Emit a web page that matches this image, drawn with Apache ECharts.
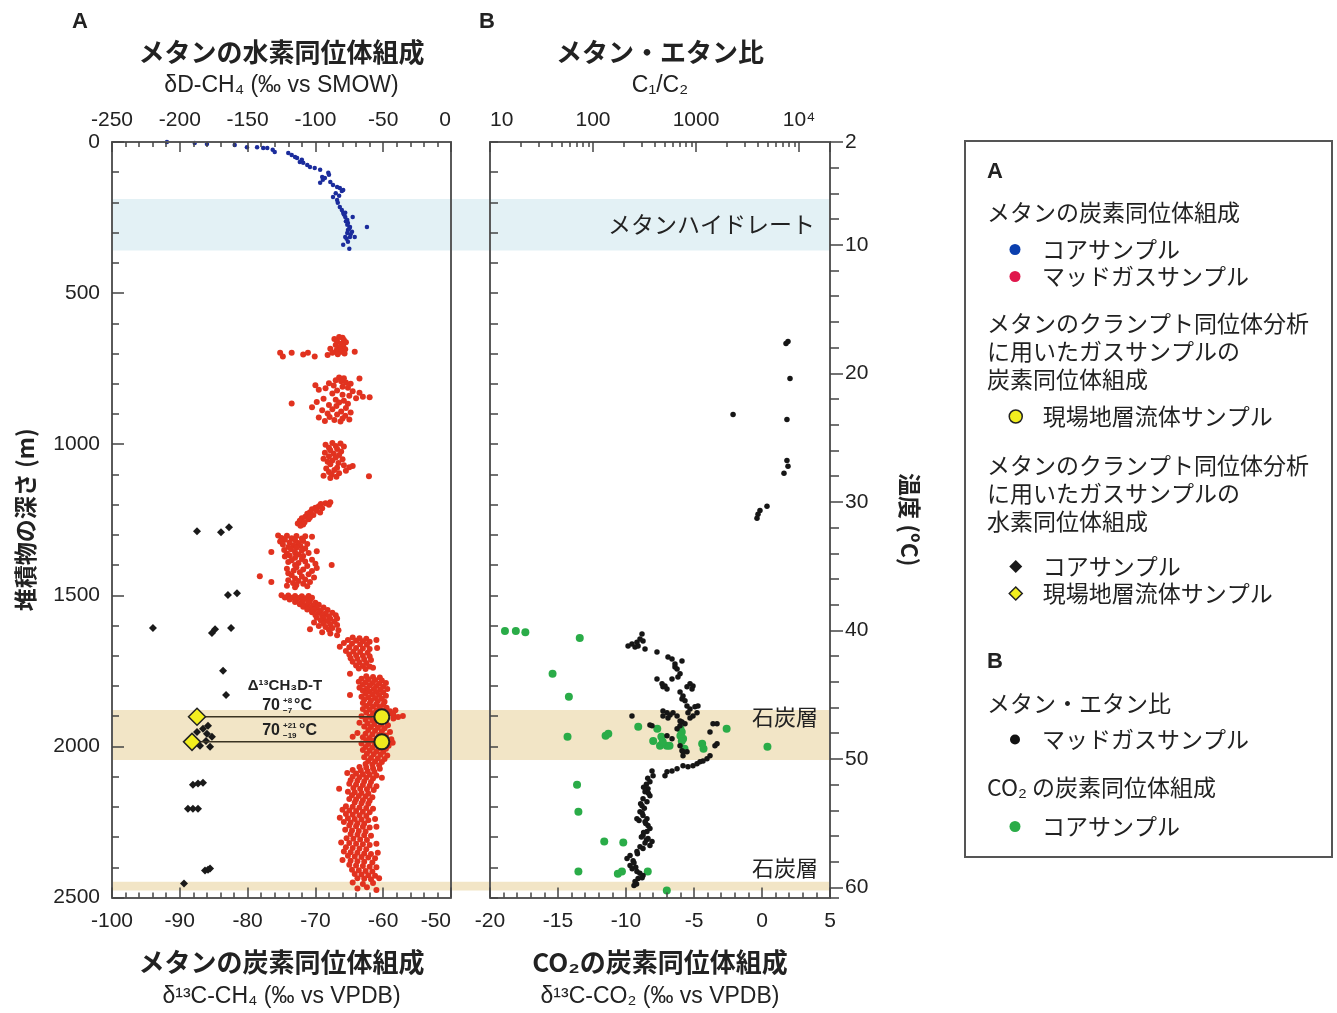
<!DOCTYPE html>
<html><head><meta charset="utf-8">
<script src="https://cdn.jsdelivr.net/npm/echarts@6/dist/echarts.min.js"></script>
<style>html,body{margin:0;padding:0;background:#fff}#c{width:1337px;height:1013px}</style>
</head><body><div id="c"></div>
<script>
// ---------- data ----------
const hydrateBand = [188, 358];
const coalBands = [[1876, 2041], [2443, 2472]];
const tempLabels = [2, 10, 20, 30, 40, 50, 60];
const c1c2Labels = [10, 100, 1000, 10000];
const c1c2MinorTicks = [20,30,40,50,60,70,80,90,200,300,400,500,600,700,800,900,2000,3000,4000,5000,6000,7000,8000,9000];

// A: carbon isotope of methane, core samples [d13C, depth]
const coreC = [[-91.9,0],[-87.8,3],[-86.0,7],[-81.9,10],[-80.1,17],[-78.6,17],[-77.7,20],[-77.1,20],[-76.3,26],[-76.0,33],
[-74.0,36],[-73.5,43],[-72.7,53],[-72.3,66],[-71.8,69],[-71.2,76],[-73.0,50],[-72.0,59],
[-70.8,83],[-70.1,86],[-69.3,92],[-68.1,102],[-68.0,108],[-69.0,116],[-68.9,125],[-69.3,135],[-68.6,119],[-67.8,132],[-67.4,142],[-66.8,149],[-66.4,152],[-66.1,162],[-65.9,159],[-67.0,170],[-66.5,178],
[-67.4,182],[-66.8,192],[-66.7,201],[-66.4,215],[-66.1,225],[-65.9,234],[-65.8,240],[-65.6,248],[-65.3,258],[-65.5,262],[-65.2,268],[-64.9,281],[-65.0,285],[-65.2,291],[-65.3,301],[-64.8,305],[-64.9,314],[-65.4,320],
[-64.5,248],[-62.4,281],[-64.2,314],[-65.6,314],[-65.2,330],[-65.9,340],[-65.0,353],[-65.3,274],[-65.6,234],[-64.6,297]];

// A: carbon isotope of methane, mud gas samples [d13C, depth]
const mudC = [
[-66.5,645],[-66.0,648],[-67.2,652],[-65.8,655],[-66.8,660],[-65.5,663],[-66.2,668],[-67.0,672],[-65.9,676],[-66.5,680],[-67.8,684],[-65.6,686],[-66.9,690],[-66.2,694],[-67.5,697],[-65.7,700],[-68.2,705],[-66.7,702],[-64.2,694],
[-75.2,697],[-74.8,710],[-73.5,697],[-71.8,703],[-71.1,697],[-70.1,710],
[-66.5,779],[-65.8,782],[-63.5,783],[-67.0,788],[-66.2,792],[-65.5,796],[-68.0,798],[-64.8,800],[-70.0,805],[-67.3,806],[-66.0,810],[-65.2,813],[-68.5,815],[-69.5,820],[-66.8,822],[-64.5,825],[-63.5,830],[-67.5,832],[-66.0,836],[-65.0,840],[-63.0,843],[-62.0,845],[-64.0,848],[-68.8,850],[-67.0,853],[-65.8,856],[-69.8,860],[-66.5,862],[-65.2,866],[-73.5,865],[-68.0,870],[-66.9,874],[-70.5,878],[-65.5,880],[-67.5,884],[-69.0,888],[-66.2,892],[-64.8,895],[-68.2,898],[-66.8,902],[-65.6,906],[-67.9,910],[-69.5,912],[-66.0,915],[-67.2,920],[-68.6,923],[-66.3,925],[-65.0,918],
[-67.5,996],[-66.3,998],[-68.5,1002],[-67.0,1006],[-65.8,1008],[-68.0,1012],[-66.8,1016],[-67.8,1020],[-66.2,1024],[-68.6,1028],[-67.3,1032],[-66.5,1036],[-68.0,1040],[-67.0,1044],[-68.8,1048],[-66.0,1050],[-67.5,1054],[-68.2,1058],[-66.6,1062],[-67.8,1066],[-65.8,1070],[-64.5,1072],[-65.0,1076],[-66.8,1078],[-68.4,1080],[-67.2,1085],[-65.5,1088],[-68.0,1092],[-66.5,1096],[-67.6,1100],[-68.8,1104],[-66.9,1108],[-67.8,1112],[-62.1,1106],
[-67.8,1192],[-68.5,1195],[-69.2,1198],[-68.0,1200],[-69.5,1205],[-70.0,1210],[-69.0,1212],[-70.5,1215],[-69.8,1220],[-70.8,1225],[-71.2,1230],[-70.3,1234],[-71.5,1240],[-72.0,1245],[-71.0,1248],[-72.3,1253],[-71.6,1258],[-72.6,1262],[-71.8,1266],[-72.2,1270],[-70.8,1242],[-69.3,1226],
[-75.5,1302],[-74.2,1303],[-72.8,1304],[-71.5,1305],[-70.5,1306],[-75.0,1310],[-73.5,1311],[-72.0,1312],[-74.5,1316],[-73.0,1318],[-71.8,1320],[-75.2,1322],[-73.8,1325],[-72.5,1327],[-71.2,1330],[-74.8,1332],[-73.2,1335],[-72.2,1337],[-74.0,1340],[-72.8,1343],[-71.5,1345],[-73.6,1348],[-74.6,1350],[-72.0,1352],[-69.8,1354],[-76.5,1357],[-73.0,1358],[-71.0,1360],[-74.2,1362],[-72.5,1365],[-73.8,1368],[-71.8,1370],[-74.5,1372],[-73.0,1376],[-72.0,1380],[-70.5,1382],[-73.5,1384],[-71.5,1388],[-74.0,1390],[-72.5,1393],[-70.0,1396],[-67.6,1400],[-73.0,1400],[-71.2,1403],[-72.8,1407],[-69.8,1410],[-74.2,1412],[-71.8,1415],[-73.2,1418],[-70.5,1420],[-72.3,1424],[-74.0,1427],[-71.0,1430],[-78.2,1437],[-73.5,1434],[-72.0,1438],[-70.2,1441],[-73.0,1444],[-71.5,1448],[-74.0,1450],[-72.5,1453],[-76.5,1456],[-70.8,1456],[-73.3,1459],[-71.8,1462],[-72.8,1466],[-74.2,1468],[-71.2,1470],[-73.0,1473],
[-75.0,1500],[-74.0,1501],[-73.0,1502],[-72.0,1503],[-71.0,1502],[-74.5,1507],[-73.5,1508],[-72.5,1509],[-71.5,1510],[-70.5,1508],[-73.8,1514],[-72.8,1515],[-71.8,1516],[-70.8,1517],[-73.0,1522],[-72.0,1523],[-71.0,1524],[-70.0,1525],[-72.3,1530],[-71.3,1532],[-70.3,1533],[-69.5,1531],[-71.8,1538],[-70.8,1540],[-69.8,1541],[-68.8,1540],[-71.2,1547],[-70.2,1548],[-69.2,1550],[-68.2,1549],[-70.5,1556],[-69.5,1558],[-68.5,1560],[-67.5,1558],[-70.0,1565],[-69.0,1567],[-68.0,1569],[-67.0,1566],[-69.8,1574],[-68.8,1576],[-67.8,1578],[-66.8,1577],[-69.2,1583],[-68.2,1585],[-67.2,1587],[-70.2,1590],[-68.8,1594],[-67.8,1596],[-66.8,1598],[-69.5,1602],[-68.5,1605],[-67.5,1608],[-70.8,1612],[-68.0,1614],[-66.6,1616],[-69.0,1622],[-67.8,1626],[-66.8,1632],
[-64.5,1640],[-63.5,1642],[-62.5,1644],[-65.2,1648],[-64.0,1650],[-63.0,1652],[-62.0,1654],[-61.0,1648],[-65.8,1658],[-64.6,1660],[-63.4,1662],[-62.4,1664],[-66.4,1670],[-65.0,1672],[-64.0,1674],[-63.0,1676],[-62.0,1678],[-60.9,1674],[-65.5,1684],[-64.4,1686],[-63.4,1688],[-62.3,1690],[-65.0,1696],[-64.0,1698],[-63.0,1700],[-62.0,1702],[-64.8,1708],[-63.8,1710],[-62.8,1712],[-61.8,1714],[-64.5,1720],[-63.5,1722],[-62.5,1724],[-64.0,1732],[-63.0,1734],[-62.0,1736],[-63.6,1742],[-62.6,1744],[-61.5,1740],[-64.9,1760],
[-62.5,1768],[-61.5,1770],[-60.5,1772],[-63.2,1776],[-62.2,1778],[-61.2,1780],[-60.2,1782],[-63.6,1786],[-62.6,1788],[-61.6,1790],[-60.6,1792],[-59.6,1790],[-63.0,1796],[-62.0,1798],[-61.0,1800],[-60.0,1802],[-63.5,1806],[-62.4,1808],[-61.4,1810],[-60.4,1812],[-59.4,1810],[-63.0,1816],[-62.0,1818],[-61.0,1820],[-60.0,1822],[-64.9,1830],[-62.6,1826],[-61.6,1828],[-60.6,1830],[-59.6,1832],[-63.2,1836],[-62.2,1838],[-61.2,1840],[-60.2,1842],[-62.8,1846],[-61.8,1848],[-60.8,1850],[-59.8,1852],[-63.0,1856],[-62.0,1858],[-61.0,1860],[-60.0,1862],[-62.5,1866],[-61.5,1868],[-60.5,1870],[-59.5,1872],
[-63.0,1876],[-62.0,1878],[-61.0,1880],[-60.0,1882],[-59.0,1884],[-58.2,1880],[-62.5,1888],[-61.5,1890],[-60.5,1892],[-59.2,1892],[-58.5,1895],[-57.1,1899],[-57.8,1903],[-63.2,1900],[-62.0,1902],[-61.0,1904],[-59.5,1906],[-58.5,1908],[-62.6,1912],[-61.6,1914],[-60.6,1916],[-59.6,1918],[-63.5,1922],[-62.3,1924],[-61.3,1926],[-60.3,1928],[-59.3,1930],[-62.8,1934],[-61.8,1936],[-60.8,1938],[-59.8,1940],[-62.2,1946],[-61.2,1948],[-60.2,1950],[-59.0,1952],[-63.8,1956],[-62.6,1958],[-61.6,1960],[-60.6,1962],[-59.6,1964],[-64.5,1968],[-63.0,1970],[-62.0,1972],[-61.0,1974],[-58.8,1976],[-62.5,1980],[-61.5,1982],[-59.8,1984],[-58.6,1988],[-63.2,1990],[-62.2,1992],[-61.2,1994],[-60.2,1996],[-59.2,1998],[-62.6,2002],[-61.6,2004],[-60.6,2006],[-59.6,2008],[-63.0,2012],[-62.0,2014],[-61.0,2016],[-60.0,2018],[-62.4,2024],[-61.4,2026],[-60.4,2028],[-59.4,2030],[-62.8,2036],[-61.8,2038],[-60.8,2040],[-59.8,2042],[-62.2,2048],[-61.2,2050],[-60.2,2052],[-62.6,2058],[-61.6,2060],[-60.6,2062],
[-63.5,2068],[-62.5,2070],[-61.5,2072],[-60.5,2074],[-64.5,2078],[-63.3,2080],[-62.3,2082],[-61.3,2084],[-65.3,2088],[-64.0,2090],[-63.0,2092],[-62.0,2094],[-61.0,2096],[-64.5,2100],[-63.5,2102],[-62.5,2104],[-61.5,2106],[-60.2,2104],[-64.8,2112],[-63.8,2114],[-62.8,2116],[-61.8,2118],[-65.0,2124],[-64.0,2126],[-63.0,2128],[-62.0,2130],[-61.0,2132],[-64.4,2138],[-63.4,2140],[-62.4,2142],[-61.4,2144],[-65.2,2150],[-64.2,2152],[-63.2,2154],[-62.2,2156],[-64.6,2162],[-63.6,2164],[-62.6,2166],[-61.6,2168],[-65.0,2174],[-64.0,2176],[-63.0,2178],[-62.0,2180],[-64.2,2186],[-63.2,2188],[-62.2,2190],[-66.5,2140],
[-65.5,2198],[-64.5,2200],[-63.5,2202],[-62.5,2204],[-61.5,2206],[-66.0,2210],[-65.0,2212],[-64.0,2214],[-63.0,2216],[-62.0,2218],[-65.5,2224],[-64.5,2226],[-63.5,2228],[-62.5,2230],[-66.4,2236],[-65.2,2238],[-64.2,2240],[-63.2,2242],[-62.2,2244],[-61.2,2240],[-65.8,2250],[-64.8,2252],[-63.8,2254],[-62.8,2256],[-65.0,2262],[-64.0,2264],[-63.0,2266],[-62.0,2268],[-61.0,2266],[-65.6,2276],[-64.6,2278],[-63.6,2280],[-62.6,2282],[-64.8,2290],[-63.8,2292],[-62.8,2294],[-61.8,2296],[-65.4,2304],[-64.4,2306],[-63.4,2308],[-62.4,2310],[-66.2,2318],[-65.0,2320],[-64.0,2322],[-63.0,2324],[-62.0,2326],[-61.0,2322],[-65.5,2334],[-64.5,2336],[-63.5,2338],[-62.5,2340],
[-65.8,2348],[-64.8,2350],[-63.8,2352],[-62.8,2354],[-61.8,2356],[-60.8,2352],[-65.2,2362],[-64.2,2364],[-63.2,2366],[-62.2,2368],[-61.2,2370],[-66.0,2376],[-64.8,2378],[-63.8,2380],[-62.8,2382],[-61.6,2384],[-65.0,2392],[-64.0,2394],[-63.0,2396],[-62.0,2398],[-61.0,2400],[-64.6,2408],[-63.6,2410],[-62.6,2412],[-61.6,2414],[-64.2,2422],[-63.2,2424],[-62.2,2426],[-61.2,2428],[-63.8,2436],[-62.8,2438],[-61.8,2440],[-60.6,2436],
[-64.5,2450],[-63.0,2455],[-61.5,2452],[-62.4,2466],[-63.8,2470],[-61.0,2475]];

// A: clumped-isotope gas samples, carbon isotope, in-situ formation fluid [d13C, depth]
const fluidC = [[-60.2,1902],[-60.2,1985]];
// A: clumped-isotope gas samples, hydrogen isotope [dD, depth]
const coreD = [[-187.3,1288],[-169.6,1291],[-163.7,1275],[-164.5,1499],[-157.8,1493],[-219.8,1608],[-176.3,1625],[-174.0,1612],[-162.2,1608],[-168.1,1750],[-165.9,1830],
[-187.3,1952],[-180.0,1958],[-179.2,1932],[-176.3,1968],[-177.7,2001],[-190.3,1991],[-185.1,1998],[-180.7,1982],[-182.9,1942],
[-190.3,2127],[-186.6,2123],[-182.9,2120],[-194.0,2206],[-190.3,2206],[-186.6,2206],[-181.4,2411],[-179.2,2408],[-177.7,2404],[-196.9,2454]];
const fluidD = [[-187.3,1902],[-191.0,1985]];
// tie lines between paired fluid samples (bottom-axis units)
const tieLine1 = [[-87.5,1902],[-60.2,1902]];
const tieLine2 = [[-88.2,1985],[-60.2,1985]];

// B: methane/ethane ratio, mud gas [C1/C2, depth]
const mudRatio = [[7820,660],[7480,667],[8180,783],[2290,902],[7640,918],[7640,1054],[7820,1073],[7150,1096],[4890,1205],[4180,1219],[4000,1232],[3910,1245],
[219,1668],[239,1661],[256,1671],[274,1668],[299,1628],[306,1651],[320,1678],[267,1655],[286,1645],
[418,1688],[535,1704],[585,1711],[625,1727],[731,1717],
[418,1777],[478,1803],[585,1777],[668,1770],[625,1737],[655,1744],[700,1760],
[468,1793],[523,1810],[500,1800],
[875,1793],[935,1800],[818,1803],[915,1810],
[700,1820],[731,1843],[782,1849],[748,1833],[818,1866],[875,1876],[977,1869],[1045,1866],[836,1889],
[478,1883],[523,1889],[560,1896],[598,1889],[478,1899],[535,1906],
[239,1899],[374,1932],[357,1929],
[655,1899],[700,1916],[731,1919],[782,1925],[875,1906],[935,1899],[1023,1889],
[1463,1925],[1600,1925],[1368,1952],[1528,1998],[1600,1991],
[700,1998],[731,2014],[748,2018],[818,2018],[748,2031],
[523,1965],[585,1975],[655,1942],[700,1932],
[1279,2041],[1368,2031],[1170,2048],[1094,2051],[1023,2057],[935,2064],[836,2067],[748,2064],[655,2074],[585,2081],[523,2084],[500,2097],
[374,2081],[383,2097],[357,2117],[342,2140],[320,2150],[357,2163],[306,2173],[334,2183],[299,2196],[286,2216],[306,2229],[267,2239],[334,2239],[320,2249],[342,2262],[357,2272],[334,2282],[306,2295],[342,2305],[374,2315],[357,2328],[286,2332],[306,2338],[267,2348],[229,2361],[214,2371],[245,2378],[229,2394],[267,2414],[306,2427],[274,2437],[256,2447],
[340,2105],[330,2125],[310,2135],[345,2155],[290,2190],[315,2205],[300,2220],[280,2245],[325,2255],[310,2285],[295,2300],[330,2310],[320,2320],[270,2355],[250,2385],[260,2400],[240,2405],[285,2420],[300,2435],[265,2455],[250,2460]];

// B: carbon isotope of CO2, core samples [d13C, depth]
const co2C = [[-18.9,1618],[-18.1,1618],[-17.4,1622],[-13.4,1641],[-15.4,1760],[-14.2,1836],[-14.3,1968],[-11.5,1965],[-11.3,1958],[-9.1,1935],[-7.7,1942],[-8.0,1982],
[-7.4,1968],[-7.5,1998],[-7.0,1998],[-6.8,1998],[-7.3,1985],[-6.0,1942],[-5.9,1952],[-6.0,1965],[-5.8,1975],[-5.9,1982],[-5.7,2008],[-4.4,1991],[-4.3,2008],[-2.6,1942],[0.4,2001],
[-13.6,2127],[-13.5,2216],[-11.6,2315],[-10.2,2318],[-13.5,2414],[-10.6,2421],[-10.3,2414],[-8.4,2414],[-7.0,2477]];

// ---------- chart ----------
const CJK = '"Noto Sans CJK JP", sans-serif';
const LAT = '"Liberation Sans", "DejaVu Sans", sans-serif';
const INK = '#222';
const AXC = '#5a5a5a';
const axisLine = {show: true, onZero: false, lineStyle: {color: AXC, width: 2}};
const noLine = {show: false, onZero: false};
const tickStyle = {color: '#444', width: 1.5};
const labelStyle = {fontSize: 21, fontFamily: LAT, color: INK};
const nameRich = {
  t: {fontSize: 26, fontWeight: 'bold', fontFamily: CJK, color: INK, lineHeight: 38},
  f: {fontSize: 23, fontFamily: LAT, color: INK, lineHeight: 30}
};
const legendText = {'A-core-C':'コアサンプル','A-mud-C':'マッドガスサンプル','A-fluid-C':'現場地層流体サンプル',
  'A-core-D':'コアサンプル','A-fluid-D':'現場地層流体サンプル','B-mud':'マッドガスサンプル','B-core':'コアサンプル'};
const legendBase = (top, data, w, h) => ({
  left: 1015 - w / 2, top: top, padding: 0, orient: 'vertical', itemWidth: w, itemHeight: h, itemGap: 0,
  selectedMode: false, data: data, formatter: n => legendText[n],
  textStyle: {fontSize: 23, fontFamily: CJK, color: INK, lineHeight: 27, padding: [0,0,0, 1042 - (1015 + w / 2) - 5]}
});
const txt = (x, y, s, o) => ({type: 'text', x: x, y: y, z: 100, silent: true,
  style: Object.assign({text: s, fontSize: 23, fontFamily: CJK, fill: INK, align: 'left', verticalAlign: 'middle'}, o || {})});

const chart = echarts.init(document.getElementById('c'));
chart.setOption({
  animation: false,
  backgroundColor: '#fff',
  grid: [
    {left: 112, top: 142, width: 718, height: 757},
    {left: 112, top: 142, width: 339, height: 757},
    {left: 490, top: 142, width: 340, height: 757}
  ],
  xAxis: [
    {gridIndex: 0, type: 'value', min: 0, max: 1, show: false},
    {gridIndex: 1, type: 'value', position: 'bottom', min: -100, max: -50, interval: 10, z: 5,
     axisLine: axisLine, axisTick: {inside: true, length: 10, lineStyle: tickStyle},
     minorTick: {show: true, splitNumber: 5, length: 5, lineStyle: tickStyle},
     axisLabel: Object.assign({margin: 13, alignMaxLabel: 'right'}, labelStyle),
     splitLine: {show: false},
     name: '{t|メタンの炭素同位体組成}\n{f|δ¹³C-CH₄ (‰ vs VPDB)}', nameLocation: 'middle', nameGap: 46,
     nameTextStyle: {rich: nameRich}},
    {gridIndex: 1, type: 'value', position: 'top', min: -250, max: 0, interval: 50, z: 5,
     axisLine: axisLine, axisTick: {inside: true, length: 10, lineStyle: tickStyle},
     minorTick: {show: true, splitNumber: 5, length: 5, lineStyle: tickStyle},
     axisLabel: Object.assign({margin: 11, alignMaxLabel: 'right'}, labelStyle),
     splitLine: {show: false},
     name: '{t|メタンの水素同位体組成}\n{f|δD-CH₄ (‰ vs SMOW)}', nameLocation: 'middle', nameGap: 41,
     nameTextStyle: {rich: nameRich}},
    {gridIndex: 2, type: 'value', position: 'bottom', min: -20, max: 5, interval: 5, z: 5,
     axisLine: axisLine, axisTick: {inside: true, length: 10, lineStyle: tickStyle},
     minorTick: {show: true, splitNumber: 5, length: 5, lineStyle: tickStyle},
     axisLabel: Object.assign({margin: 13}, labelStyle),
     splitLine: {show: false},
     name: '{t|CO₂の炭素同位体組成}\n{f|δ¹³C-CO₂ (‰ vs VPDB)}', nameLocation: 'middle', nameGap: 46,
     nameTextStyle: {rich: nameRich}},
    {gridIndex: 2, type: 'log', logBase: 10, position: 'top', min: 10, max: 20000, z: 5,
     axisLine: axisLine, axisTick: {inside: true, length: 10, lineStyle: tickStyle},
     axisLabel: Object.assign({margin: 11, alignMinLabel: 'left',
       formatter: v => { const r = Math.round(v); return r === 10000 ? '10⁴' : (c1c2Labels.indexOf(r) >= 0 ? String(r) : ''); }}, labelStyle),
     splitLine: {show: false},
     name: '{t|メタン・エタン比}\n{f|C₁/C₂}', nameLocation: 'middle', nameGap: 41,
     nameTextStyle: {rich: nameRich}},
    {gridIndex: 2, type: 'value', position: 'top', min: 1, max: Math.log10(20000), z: 5,
     axisLine: noLine,
     axisTick: {show: true, inside: true, length: 5, lineStyle: tickStyle, customValues: c1c2MinorTicks.map(v => Math.log10(v))},
     axisLabel: {show: false}, splitLine: {show: false}}
  ],
  yAxis: [
    {gridIndex: 0, type: 'value', min: 0, max: 2500, inverse: true, show: false},
    {gridIndex: 1, type: 'value', position: 'left', min: 0, max: 2500, interval: 500, inverse: true, z: 5,
     axisLine: axisLine, axisTick: {inside: true, length: 12, lineStyle: tickStyle},
     minorTick: {show: true, splitNumber: 5, length: 7, lineStyle: tickStyle},
     axisLabel: Object.assign({margin: 12, formatter: v => String(v)}, labelStyle),
     splitLine: {show: false},
     name: '堆積物の深さ (m)', nameLocation: 'middle', nameGap: 75,
     nameTextStyle: {fontSize: 23, fontWeight: 'bold', fontFamily: CJK, color: INK}},
    {gridIndex: 1, type: 'value', position: 'right', min: 0, max: 2500, inverse: true, z: 5,
     axisLine: axisLine, axisTick: {show: false}, axisLabel: {show: false}, splitLine: {show: false}},
    {gridIndex: 2, type: 'value', position: 'left', min: 0, max: 2500, interval: 100, inverse: true, z: 5,
     axisLine: axisLine, axisTick: {inside: true, length: 8, lineStyle: tickStyle},
     axisLabel: {show: false}, splitLine: {show: false}},
    {gridIndex: 2, type: 'value', position: 'right', min: 2, max: 60.78, interval: 2, inverse: true, z: 5,
     axisLine: axisLine, axisTick: {length: 9, lineStyle: tickStyle},
     axisLabel: Object.assign({margin: 15, customValues: tempLabels}, labelStyle),
     splitLine: {show: false},
     name: '温度 (ºC)', nameLocation: 'middle', nameGap: 68, nameRotate: -90,
     nameTextStyle: {fontSize: 23, fontWeight: 'bold', fontFamily: CJK, color: INK}},
    {gridIndex: 2, type: 'value', position: 'right', min: 2, max: 60.78, inverse: true, z: 5,
     axisLine: noLine, axisTick: {show: true, length: 13, lineStyle: tickStyle, customValues: tempLabels},
     axisLabel: {show: false}, splitLine: {show: false}}
  ],
  legend: [
    legendBase(236, [{name: 'A-core-C', itemStyle: {color: '#0b3fae'}}, {name: 'A-mud-C', itemStyle: {color: '#e0174c'}}], 11, 11),
    legendBase(403, [{name: 'A-fluid-C', itemStyle: {color: '#f2ee1e', borderColor: '#222', borderWidth: 1.5}}], 13, 13),
    legendBase(553, [{name: 'A-core-D', itemStyle: {color: '#1a1a1a'}}, {name: 'A-fluid-D', itemStyle: {color: '#f2ee1e', borderColor: '#222', borderWidth: 1.5}}], 13, 13),
    legendBase(726, [{name: 'B-mud', itemStyle: {color: '#111'}}], 10, 10),
    legendBase(813, [{name: 'B-core', itemStyle: {color: '#2aac48'}}], 11, 11)
  ],
  series: [
    {type: 'scatter', name: 'bands', xAxisIndex: 0, yAxisIndex: 0, data: [], z: 1, silent: true,
     markArea: {silent: true, label: {show: false}, data: [
       [{yAxis: hydrateBand[0], itemStyle: {color: '#e3f1f5'}}, {yAxis: hydrateBand[1]}],
       [{yAxis: coalBands[0][0], itemStyle: {color: '#f2e5c6'}}, {yAxis: coalBands[0][1]}],
       [{yAxis: coalBands[1][0], itemStyle: {color: '#f2e5c6'}}, {yAxis: coalBands[1][1]}]
     ]}},
    {type: 'scatter', name: 'A-mud-C', xAxisIndex: 1, yAxisIndex: 1, data: mudC, symbolSize: 6, z: 2,
     itemStyle: {color: '#e1321f', opacity: 1}},
    {type: 'scatter', name: 'A-core-C', xAxisIndex: 1, yAxisIndex: 1, data: coreC, symbolSize: 4.5, z: 3,
     itemStyle: {color: '#1b2c9c', opacity: 1}},
    {type: 'scatter', name: 'A-core-D', xAxisIndex: 2, yAxisIndex: 1, data: coreD, symbol: 'diamond', symbolSize: 8, z: 4,
     itemStyle: {color: '#1a1a1a', opacity: 1}},
    {type: 'line', name: 'tie1', xAxisIndex: 1, yAxisIndex: 1, data: tieLine1, symbol: 'none', z: 5,
     lineStyle: {color: '#3a3322', width: 1.5}},
    {type: 'line', name: 'tie2', xAxisIndex: 1, yAxisIndex: 1, data: tieLine2, symbol: 'none', z: 5,
     lineStyle: {color: '#3a3322', width: 1.5}},
    {type: 'scatter', name: 'A-fluid-D', xAxisIndex: 2, yAxisIndex: 1, data: fluidD, symbol: 'diamond', symbolSize: 17, z: 6,
     itemStyle: {color: '#f2ee1e', borderColor: '#222', borderWidth: 1.5, opacity: 1}},
    {type: 'scatter', name: 'A-fluid-C', xAxisIndex: 1, yAxisIndex: 1, data: fluidC, symbolSize: 15, z: 6,
     itemStyle: {color: '#eeea1e', borderColor: '#222', borderWidth: 2, opacity: 1}},
    {type: 'scatter', name: 'B-core', xAxisIndex: 3, yAxisIndex: 3, data: co2C, symbolSize: 8, z: 3,
     itemStyle: {color: '#2aac48', opacity: 1}},
    {type: 'scatter', name: 'B-mud', xAxisIndex: 4, yAxisIndex: 3, data: mudRatio, symbolSize: 5.5, z: 4,
     itemStyle: {color: '#161616', opacity: 1}}
  ],
  graphic: [
    txt(80, 22, 'A', {fontSize: 22, fontWeight: 'bold', fontFamily: LAT, align: 'center'}),
    txt(487, 22, 'B', {fontSize: 22, fontWeight: 'bold', fontFamily: LAT, align: 'center'}),
    txt(815, 224, 'メタンハイドレート', {align: 'right', fontSize: 23}),
    txt(818, 717, '石炭層', {align: 'right', fontSize: 22}),
    txt(818, 868, '石炭層', {align: 'right', fontSize: 22}),
    txt(285, 686, 'Δ¹³CH₃D-T', {align: 'center', fontSize: 15, fontWeight: 'bold', fontFamily: LAT}),
    txt(280, 706, '70', {align: 'right', fontSize: 16, fontWeight: 'bold', fontFamily: LAT}),
    txt(283, 701, '+8', {fontSize: 8, fontWeight: 'bold', fontFamily: LAT}),
    txt(283, 711, '−7', {fontSize: 8, fontWeight: 'bold', fontFamily: LAT}),
    txt(294, 706, '°C', {fontSize: 16, fontWeight: 'bold', fontFamily: LAT}),
    txt(280, 731, '70', {align: 'right', fontSize: 16, fontWeight: 'bold', fontFamily: LAT}),
    txt(283, 726, '+21', {fontSize: 8, fontWeight: 'bold', fontFamily: LAT}),
    txt(283, 736, '−19', {fontSize: 8, fontWeight: 'bold', fontFamily: LAT}),
    txt(299, 731, '°C', {fontSize: 16, fontWeight: 'bold', fontFamily: LAT}),
    {type: 'rect', shape: {x: 965, y: 141, width: 367, height: 716}, silent: true, z: 100,
     style: {fill: 'none', stroke: '#555', lineWidth: 2}},
    txt(987, 172, 'A', {fontSize: 22, fontWeight: 'bold', fontFamily: LAT}),
    txt(987, 212, 'メタンの炭素同位体組成'),
    txt(987, 323, 'メタンのクランプト同位体分析'),
    txt(987, 351, 'に用いたガスサンプルの'),
    txt(987, 379, '炭素同位体組成'),
    txt(987, 465, 'メタンのクランプト同位体分析'),
    txt(987, 493, 'に用いたガスサンプルの'),
    txt(987, 521, '水素同位体組成'),
    txt(987, 662, 'B', {fontSize: 22, fontWeight: 'bold', fontFamily: LAT}),
    txt(987, 703, 'メタン・エタン比'),
    txt(987, 787, 'CO₂ の炭素同位体組成')
  ]
});
</script></body></html>
